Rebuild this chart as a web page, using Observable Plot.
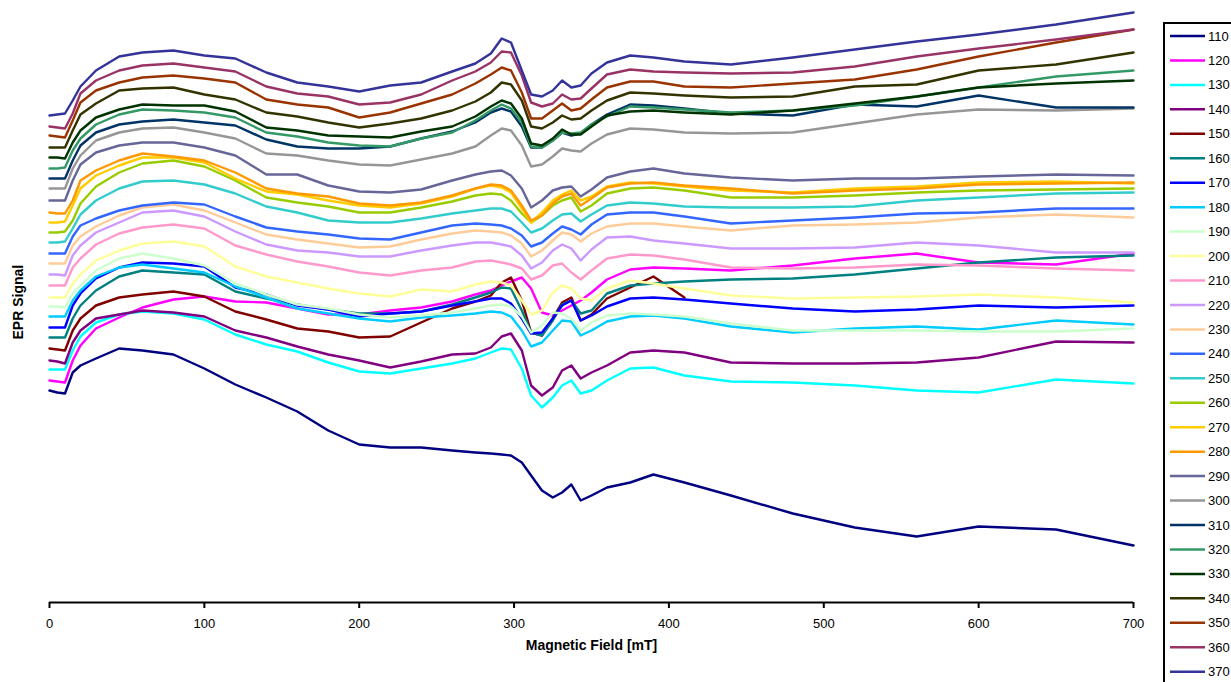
<!DOCTYPE html>
<html><head><meta charset="utf-8">
<script src="https://cdn.jsdelivr.net/npm/d3@7"></script>
<script src="https://cdn.jsdelivr.net/npm/@observablehq/plot@0.6"></script>
<style>
html,body{margin:0;padding:0;background:#fff;overflow:hidden;}
#wrap{position:relative;width:1231px;height:682px;overflow:hidden;}
#legend{position:absolute;left:1163px;top:22px;}
</style></head>
<body><div id="wrap"><div id="chart"></div><svg id="legend" width="68" height="670"></svg></div>
<script>
// Magnetic field sample positions (mT)
const fields = [0,5,10,15,20,30,45,60,80,100,120,140,160,180,200,220,240,260,275,285,292,298,305,311,318,325,331,337,343,350,360,375,390,410,440,480,520,560,600,650,700];

// Series labels (temperatures) and colours
const temps = [110,120,130,140,150,160,170,180,190,200,210,220,230,240,250,260,270,280,290,300,310,320,330,340,350,360,370];
const colors = ["#000080","#FF00FF","#00FFFF","#800080","#800000","#008080","#0000FF","#00CCFF","#CCFFCC","#FFFF99","#FF99CC","#CC99FF","#FFCC99","#3366FF","#33CCCC","#99CC00","#FFCC00","#FF9900","#666699","#969696","#003366","#339966","#003300","#333300","#993300","#993366","#333399"];

// EPR signal (arbitrary units) for each series at the field positions above
const s110 = [212,210,209,230,237,244,254,252,248,234,218,205,191,172,158,155,155,152,150,149,148,147,140,127,112,105,110,118,102,107,115,120,128,120,107,89,75,66,76,73,57];
const s120 = [222,221,220,242,257,274,285,295,303,306,301,300,294,288,288,292,295,301,308,312,317,321,325,314,290,287,292,297,302,310,323,333,335,334,332,337,344,349,340,338,349];
const s130 = [233,233,233,252,266,280,288,291,289,283,268,258,251,240,231,229,234,239,244,250,254,253,234,207,195,205,217,222,209,212,222,234,235,227,221,220,217,212,210,223,219];
const s140 = [242,241,239,260,272,284,288,292,290,286,272,265,256,248,242,235,241,248,249,255,266,269,252,217,207,215,232,237,224,230,237,250,252,250,240,239,239,240,245,261,260];
const s150 = [254,253,252,272,284,297,305,308,311,306,291,283,274,271,265,266,280,294,301,307,320,325,302,270,267,284,300,305,282,288,304,315,326,305,null,null,null,null,null,null,null];
const s160 = [265,265,265,284,297,312,326,332,330,328,311,304,298,293,289,289,291,298,305,310,315,314,292,270,267,282,298,302,289,292,309,317,319,321,323,324,328,334,340,345,347];
const s170 = [275,275,275,297,309,324,335,340,339,336,315,308,297,293,286,289,291,297,301,304,304,299,284,269,270,284,297,302,282,287,296,304,305,303,299,294,291,293,297,295,297];
const s180 = [286,286,286,302,312,326,335,338,334,330,316,305,294,289,284,281,285,287,289,291,290,286,272,256,260,272,282,281,267,272,281,286,287,284,276,270,274,276,273,282,278];
const s190 = [296,296,295,309,317,332,344,349,344,337,319,308,298,294,288,285,287,290,294,297,298,296,286,270,277,290,289,284,272,280,287,289,288,286,279,272,272,272,271,271,274];
const s200 = [305,305,305,319,328,342,352,359,361,356,336,326,320,314,309,306,313,311,318,321,320,317,302,288,292,310,317,314,304,302,314,322,319,314,307,304,305,306,308,305,300];
const s210 = [317,317,317,335,344,358,369,375,378,374,357,348,341,336,330,327,332,335,341,342,340,338,334,323,327,337,339,330,323,332,344,348,347,343,335,334,335,338,337,334,332];
const s220 = [328,328,327,347,357,370,380,390,392,386,371,358,352,350,346,346,352,357,360,360,358,356,347,334,340,352,358,354,342,353,365,366,362,359,354,354,355,360,357,350,350];
const s230 = [339,339,339,357,366,376,387,395,398,392,380,368,363,359,355,356,363,369,372,371,370,367,359,346,352,362,370,368,361,369,376,379,379,376,372,377,378,380,385,388,385];
const s240 = [349,349,349,366,377,384,392,397,400,398,386,375,371,368,364,363,370,377,379,378,377,374,367,356,360,369,376,373,368,378,388,390,390,386,379,382,385,389,390,394,394];
const s250 = [360,360,361,374,388,402,414,421,422,418,409,396,390,382,380,380,384,389,392,394,394,391,380,370,374,382,388,389,381,388,397,400,399,396,395,395,396,402,405,409,410];
const s260 = [370,370,371,382,399,416,430,439,442,436,422,405,400,396,390,390,395,401,407,409,408,402,389,380,387,397,402,405,391,397,409,414,415,412,405,405,407,410,412,413,414];
const s270 = [380,380,381,397,414,427,437,445,445,440,424,411,408,402,397,395,399,406,414,417,415,410,394,380,390,402,408,412,402,406,416,420,419,416,412,410,414,416,420,421,419];
const s280 = [390,389,389,402,422,432,442,449,446,442,430,414,409,406,399,397,400,407,414,418,417,412,397,382,387,399,406,409,397,404,415,419,420,417,414,409,412,414,418,419,420];
const s290 = [402,402,402,422,438,450,457,460,460,455,447,428,428,417,411,410,413,422,428,431,432,427,414,395,402,412,415,416,406,413,425,431,434,429,425,422,424,424,426,428,427];
const s300 = [414,414,414,434,447,462,470,474,475,470,464,449,447,442,438,437,443,449,456,467,474,472,457,436,438,446,454,452,451,459,468,474,473,470,469,470,479,488,493,492,494];
const s310 = [424,424,424,442,457,470,478,481,483,480,477,463,456,454,454,456,464,471,480,490,494,491,476,455,455,462,470,467,469,478,488,498,497,494,489,487,498,496,507,495,495];
const s320 = [434,434,435,452,464,478,488,493,492,490,485,470,466,460,457,456,464,470,482,492,498,494,480,456,455,462,470,469,470,478,486,496,495,493,490,492,497,506,515,526,532];
const s330 = [445,445,444,460,472,485,493,498,497,497,491,475,472,467,466,465,471,476,486,496,502,499,484,459,457,464,473,468,468,476,487,491,492,490,488,492,499,506,515,519,522];
const s340 = [455,455,455,472,488,499,512,514,515,508,503,490,486,480,475,479,484,492,501,510,520,518,502,476,474,480,487,483,484,492,502,510,509,507,505,506,516,518,532,538,550];
const s350 = [467,466,465,482,500,512,520,525,527,524,520,503,498,495,485,490,499,508,519,528,535,532,510,484,484,492,499,492,494,503,515,521,521,516,515,519,523,533,546,560,573];
const s360 = [476,475,474,489,509,522,532,537,539,535,531,516,509,506,498,500,508,522,531,540,551,550,527,500,496,499,508,503,504,514,528,533,531,530,529,530,536,546,554,563,573];
const s370 = [487,488,489,502,516,532,546,550,552,547,544,530,520,516,511,517,520,531,539,549,564,560,532,508,506,512,522,515,517,529,540,547,545,541,538,545,553,561,568,578,590];

const seriesValues = [s110,s120,s130,s140,s150,s160,s170,s180,s190,s200,s210,s220,s230,s240,s250,s260,s270,s280,s290,s300,s310,s320,s330,s340,s350,s360,s370];
const xTicks = [0,100,200,300,400,500,600,700];

// tidy table
const rows = [];
seriesValues.forEach((vals, i) => {
  vals.forEach((v, j) => rows.push({temp: String(temps[i]), field: fields[j], signal: v}));
});

const font = "'Liberation Sans', Arial, Helvetica, sans-serif";

const chart = Plot.plot({
  width: 1231,
  height: 682,
  marginLeft: 49,
  marginRight: 98,
  marginTop: 10,
  marginBottom: 80,
  style: {fontFamily: font, fontSize: "13px", background: "#fff", color: "#000"},
  x: {domain: [0, 700], axis: null},
  y: {domain: [0, 592], axis: null},
  color: {type: "ordinal", domain: temps.map(String), range: colors},
  marks: [
    Plot.line(rows, {x: "field", y: "signal", z: "temp", stroke: "temp", strokeWidth: 2.4, strokeLinejoin: "round"}),
    Plot.ruleY([0], {stroke: "#000", strokeWidth: 2}),
    Plot.axisX({ticks: xTicks, tickSize: 6, tickPadding: 10, strokeWidth: 2, fontSize: 13, fill: "#000", label: null}),
    Plot.text(["Magnetic Field [mT]"], {frameAnchor: "bottom", dy: 43, lineAnchor: "middle", fontWeight: "bold", fontSize: 14, fill: "#000"}),
    Plot.text(["EPR Signal"], {frameAnchor: "left", dx: -31, dy: 33, rotate: -90, lineAnchor: "middle", fontWeight: "bold", fontSize: 14, fill: "#000"})
  ]
});
document.getElementById("chart").appendChild(chart);

// legend
const lg = d3.select("#legend");
lg.append("rect").attr("x", 1).attr("y", 1).attr("width", 100).attr("height", 700)
  .attr("fill", "#fff").attr("stroke", "#000").attr("stroke-width", 2);
temps.forEach((t, i) => {
  const y = 14 + i * 24.45;
  lg.append("line").attr("x1", 7).attr("x2", 42).attr("y1", y).attr("y2", y)
    .attr("stroke", colors[i]).attr("stroke-width", 2.5);
  lg.append("text").attr("x", 45).attr("y", y).attr("dy", "0.35em")
    .attr("font-family", font).attr("font-size", 13).attr("fill", "#000").text(String(t));
});
</script>
</body></html>
